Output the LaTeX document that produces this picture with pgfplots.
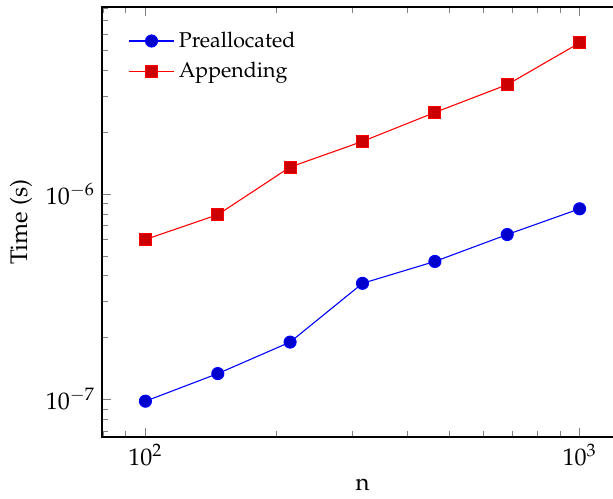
\documentclass[border=0pt]{standalone}
\usepackage[T1]{fontenc}
\usepackage{mathpazo}
\usepackage{pgfplots}
\pgfplotsset{compat=1.18}

\begin{document}
\begin{tikzpicture}
\begin{loglogaxis}[
    scale only axis,
    width=260.5pt,
    height=215pt,
    xlabel={n},
    ylabel={Time (s)},
    axis line style={line width=0.8pt},
    mark size=3pt,
    every axis plot/.append style={line width=0.55pt},
    legend style={at={(0.038,0.962)}, anchor=north west, draw=none, fill=none,
        row sep=2pt, font=\fontsize{10.7}{14}\selectfont},
    legend cell align=left,
    legend image code/.code={
        \draw[mark repeat=2,mark phase=2]
        plot coordinates {(0cm,0cm) (0.4cm,0cm) (0.8cm,0cm)};
    },
    every axis label/.append style={font=\large},
    tick label style={font=\large},
]
\addplot coordinates {
    (100,9.8e-8)
    (146.8,1.335e-7)
    (215.4,1.9e-7)
    (316.2,3.67e-7)
    (464.2,4.69e-7)
    (681.3,6.34e-7)
    (1000,8.46e-7)
};
\addlegendentry{Preallocated}
\addplot coordinates {
    (100,6.0e-7)
    (146.8,7.92e-7)
    (215.4,1.35e-6)
    (316.2,1.80e-6)
    (464.2,2.49e-6)
    (681.3,3.40e-6)
    (1000,5.43e-6)
};
\addlegendentry{Appending}
\end{loglogaxis}
\pgfresetboundingbox
\path[use as bounding box] ([xshift=-51pt,yshift=-30.5pt]current axis.south west)
    rectangle ([xshift=255.5pt,yshift=3.5pt]current axis.north west);
\end{tikzpicture}
\end{document}
